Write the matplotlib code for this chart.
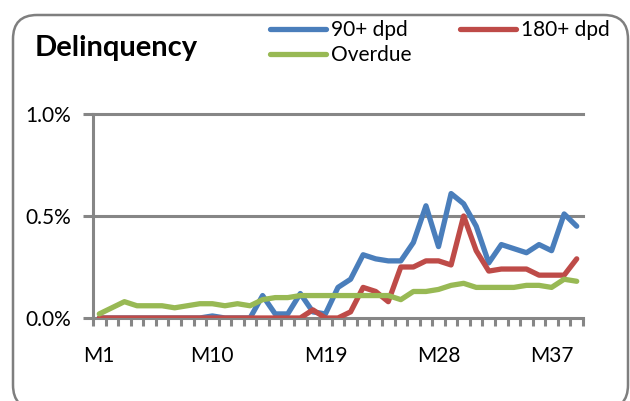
import matplotlib
matplotlib.use("Agg")
import matplotlib.pyplot as plt
from matplotlib.patches import FancyBboxPatch
from matplotlib.transforms import IdentityTransform
from matplotlib.ticker import FixedLocator, NullFormatter

# ---- data ----
months = [f"M{i}" for i in range(1, 40)]
dpd90 = [0, 0, 0, 0, 0, 0, 0, 0, 0, 0.01, 0, 0, 0,
         0.11, 0.02, 0.02, 0.12, 0.03, 0.02,
         0.15, 0.19, 0.31, 0.29, 0.28, 0.28, 0.37, 0.55, 0.35, 0.61, 0.56,
         0.45, 0.27, 0.36, 0.34, 0.32, 0.36, 0.33, 0.51, 0.45]
dpd180 = [0, 0, 0, 0, 0, 0, 0, 0, 0, 0, 0, 0, 0, 0, 0, 0, 0,
          0.04, 0.0, 0.0, 0.03, 0.15, 0.13, 0.08, 0.25, 0.25, 0.28, 0.28,
          0.26, 0.50, 0.33, 0.23, 0.24, 0.24, 0.24, 0.21, 0.21, 0.21, 0.29]
overdue = [0.02, 0.05, 0.08, 0.06, 0.06, 0.06, 0.05, 0.06, 0.07, 0.07,
           0.06, 0.07, 0.06, 0.09, 0.10, 0.10, 0.11, 0.11, 0.11, 0.11,
           0.11, 0.11, 0.11, 0.11, 0.09, 0.13, 0.13, 0.14, 0.16, 0.17,
           0.15, 0.15, 0.15, 0.15, 0.16, 0.16, 0.15, 0.19, 0.18]
series_names = ["90+ dpd", "180+ dpd", "Overdue"]
y_ticks = [0.0, 0.5, 1.0]
y_tick_labels = ["0.0%", "0.5%", "1.0%"]
x_label_months = ["M1", "M10", "M19", "M28", "M37"]

colors = ["#4A7EBB", "#BE4B48", "#98B954"]
grey = "#868686"

plt.rcParams['font.family'] = ['Lato', 'DejaVu Sans']

W, H = 630, 401
fig = plt.figure(figsize=(W / 100, H / 100), dpi=100)
fig.patch.set_facecolor("white")

# rounded chart border
border = FancyBboxPatch((13, -8), 615, 401 - 15 + 8,
                        boxstyle="round,pad=0,rounding_size=24",
                        transform=IdentityTransform(), fill=False,
                        edgecolor="#7F7F7F", linewidth=1.8)
fig.add_artist(border)

left, right, bottom, top = 93, 583, 318, 114
ax = fig.add_axes([left / W, (H - bottom) / H, (right - left) / W, (bottom - top) / H])

x = list(range(len(months)))
lines = []
for vals, c, name in zip([dpd90, dpd180, overdue], colors, series_names):
    ln, = ax.plot(x, vals, color=c, lw=3.8, solid_capstyle="round",
                  solid_joinstyle="round", label=name, zorder=3)
    lines.append(ln)

ax.set_xlim(-0.5, len(months) - 0.5)
ax.set_ylim(0, 1.0)

# grid lines
for yv in y_ticks[1:]:
    ax.axhline(yv, color=grey, lw=2.2, zorder=1, clip_on=False)

for s in ["top", "right"]:
    ax.spines[s].set_visible(False)
for s in ["left", "bottom"]:
    ax.spines[s].set_color(grey)
    ax.spines[s].set_linewidth(2.2)
    ax.spines[s].set_zorder(2)

ax.set_yticks(y_ticks)
ax.set_yticklabels(y_tick_labels, fontsize=15)
ax.tick_params(axis="y", length=7, width=2.2, color=grey, pad=9)

# x ticks between categories, labels at selected months
bounds = [i - 0.5 for i in range(len(months) + 1)]
ax.xaxis.set_major_locator(FixedLocator(bounds))
ax.xaxis.set_major_formatter(NullFormatter())
ax.tick_params(axis="x", which="major", length=6, width=2.2, color=grey)
lab_pos = [months.index(m) for m in x_label_months]
ax.xaxis.set_minor_locator(FixedLocator(lab_pos))
ax.set_xticklabels(x_label_months, minor=True, fontsize=15)
ax.tick_params(axis="x", which="minor", length=0, pad=20)

# title
fig.text(35 / W, 1 - 48 / H, "Delinquency", fontsize=21, fontweight="bold",
         va="center", ha="left")

# legend: column 1 -> 90+ dpd, Overdue ; column 2 -> 180+ dpd
order = [0, 2, 1]
fig.legend(handles=[lines[i] for i in order],
           labels=[series_names[i] for i in order], ncol=2, loc="upper left",
           bbox_to_anchor=(270 / W, 1 - 20 / H), frameon=False, fontsize=15,
           borderpad=0, borderaxespad=0, handlelength=2.7, handletextpad=0.25,
           columnspacing=2.3, labelspacing=0.25)

fig.savefig("out.png", dpi=100)
